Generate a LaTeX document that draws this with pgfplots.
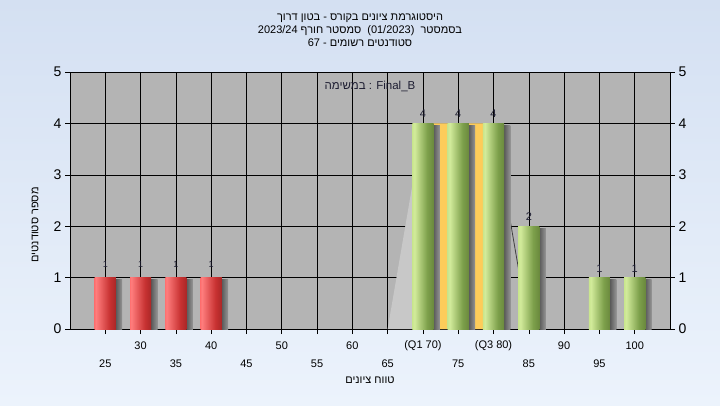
\documentclass[border=0pt]{standalone}
\usepackage{pgfplots}
\pgfplotsset{compat=1.18}
\usepackage{fontspec}
\setmainfont{Liberation Sans}
\newfontfamily\heb[Script=Hebrew]{Liberation Sans}
\TeXXeTstate=1

\definecolor{bgtop}{RGB}{212,224,242}
\definecolor{bgbot}{RGB}{236,243,252}
\definecolor{plotbg}{RGB}{180,180,180}
\definecolor{ltgray}{RGB}{200,200,200}
\definecolor{yell}{RGB}{253,204,90}
\definecolor{labc}{RGB}{30,30,50}
\definecolor{ra}{RGB}{245,25,25}
\definecolor{rb}{RGB}{255,125,125}
\definecolor{rc}{RGB}{200,50,50}
\definecolor{rd}{RGB}{120,20,20}
\definecolor{ga}{RGB}{155,205,75}
\definecolor{gb}{RGB}{210,235,155}
\definecolor{gc}{RGB}{125,160,75}
\definecolor{gd}{RGB}{75,98,38}
\definecolor{sa}{RGB}{60,60,60}
\pgfdeclarehorizontalshading{redcyl}{100bp}{color(0bp)=(ra); color(28bp)=(rb); color(60bp)=(rc); color(100bp)=(rd)}
\pgfdeclarehorizontalshading{grncyl}{100bp}{color(0bp)=(ga); color(30bp)=(gb); color(60bp)=(gc); color(100bp)=(gd)}
\pgfdeclarehorizontalshading{shad}{100bp}{color(0bp)=(sa); color(100bp)=(plotbg)}

\pgfplotsset{
  redbar/.style={ybar, bar width=3, shading=redcyl, draw=none,
    nodes near coords, every node near coord/.append style={font=\fontsize{9}{10}\selectfont, text=labc, yshift=7pt}},
  grnbar/.style={ybar, bar width=3, shading=grncyl, draw=none,
    nodes near coords, every node near coord/.append style={font=\fontsize{11}{12}\selectfont, text=labc, yshift=2pt}},
  shbar/.style={ybar, bar width=0.9, bar shift=1.95, shading=shad, draw=none},
}

\begin{document}
\begin{tikzpicture}
\fill[top color=bgtop, bottom color=bgbot] (0,0) rectangle (720pt,405pt);
\path[use as bounding box] (0,0) rectangle (720pt,405pt);
\begin{axis}[
  at={(70pt,76pt)}, anchor=south west,
  width=600pt, height=257pt, scale only axis,
  xmin=20, xmax=105, ymin=0, ymax=5,
  axis background/.style={fill=plotbg},
  axis line style={black, line width=0.8pt},
  grid=major, major grid style={black, line width=0.6pt},
  xtick={25,35,...,95},
  ytick={0,...,5},
  tick align=outside, major tick length=5pt,
  tick style={black, line width=0.6pt},
  xtick pos=left, ytick pos=left,
  extra x ticks={30,40,...,100},
  extra x tick labels={30,40,50,60,(Q1 70),(Q3 80),90,100},
  extra x tick style={grid=major, xticklabel style={yshift=18pt}},
  xticklabel style={anchor=center, yshift=-30pt, font=\fontsize{11}{13}\selectfont},
  yticklabel style={font=\fontsize{14}{16}\selectfont},
  /pgf/number format/assume math mode=true,
  title={\beginR היסטוגרמת ציונים בקורס - בטון דרוך\endR\\
         \beginR בסמסטר~~\beginL(01/2023)\endL{}~~סמסטר חורף \beginL2023/24\endL\endR\\
         \beginR סטודנטים רשומים - \beginL67\endL\endR},
  title style={at={(axis description cs:0.5,1)}, anchor=center, yshift=36pt, xshift=-10pt,
               align=center, font=\heb\fontsize{11}{13}\selectfont},
  xlabel={\beginR טווח ציונים\endR},
  xlabel style={at={(axis description cs:0.5,0)}, anchor=center, yshift=-51pt,
                font=\heb\fontsize{11}{13}\selectfont},
  ylabel={\beginR מספר סטודנטים\endR},
  ylabel style={at={(axis description cs:-0.058,0.405)}, anchor=center,
                font=\heb\fontsize{11}{13}\selectfont},
  clip=false,
]
\addplot[fill=ltgray, draw=none] coordinates {(65,0) (70,4) (80,4) (80,0)} \closedcycle;
\addplot[draw=black!75, line width=0.8pt] coordinates {(80,4) (85,0)};
\addplot[fill=yell, draw=none] coordinates {(70,0) (70,4) (80,4) (80,0)} \closedcycle;
% shadows
\addplot[shbar] coordinates {(25,0.97)};
\addplot[shbar] coordinates {(30,0.97)};
\addplot[shbar] coordinates {(35,0.97)};
\addplot[shbar] coordinates {(40,0.97)};
\addplot[shbar] coordinates {(70,3.95)};
\addplot[shbar] coordinates {(75,3.95)};
\addplot[shbar] coordinates {(80,3.95)};
\addplot[shbar] coordinates {(85,1.96)};
\addplot[shbar] coordinates {(95,0.97)};
\addplot[shbar] coordinates {(100,0.97)};
% bars
\addplot[redbar] coordinates {(25,1)};
\addplot[redbar] coordinates {(30,1)};
\addplot[redbar] coordinates {(35,1)};
\addplot[redbar] coordinates {(40,1)};
\addplot[grnbar] coordinates {(70,4)};
\addplot[grnbar] coordinates {(75,4)};
\addplot[grnbar] coordinates {(80,4)};
\addplot[grnbar] coordinates {(85,2)};
\addplot[grnbar] coordinates {(95,1)};
\addplot[grnbar] coordinates {(100,1)};
\node[font=\heb\fontsize{11.5}{13}\selectfont, text=labc] at (axis description cs:0.5,0.9455)
  {\beginR במשימה\endR{} : Final\_B};
\end{axis}
\begin{axis}[
  at={(70pt,76pt)}, anchor=south west,
  width=600pt, height=257pt, scale only axis,
  xmin=20, xmax=105, ymin=0, ymax=5,
  hide x axis,
  axis y line*=right,
  axis line style={black, line width=0.8pt},
  ytick={0,...,5},
  tick align=outside, major tick length=5pt,
  tick style={black, line width=0.6pt},
  yticklabel style={font=\fontsize{14}{16}\selectfont},
  /pgf/number format/assume math mode=true,
]
\addplot[draw=none] coordinates {(20,0)};
\end{axis}
\end{tikzpicture}
\end{document}
